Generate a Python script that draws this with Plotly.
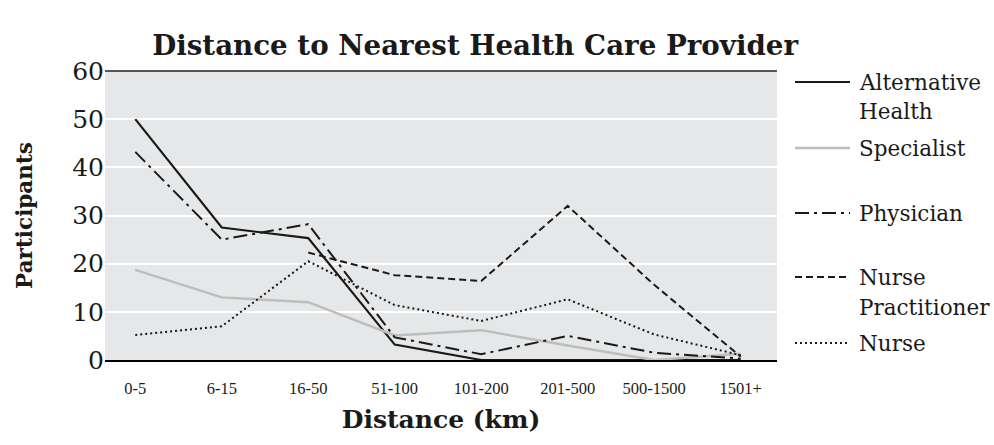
import plotly.graph_objects as go

# ---- data ----
distances = ["0-5", "6-15", "16-50", "51-100", "101-200", "201-500", "500-1500", "1501+"]
alternative_health = [50, 27.5, 25.3, 3.2, 0, 0, 0, 0]
specialist = [18.7, 13, 12, 5.1, 6.2, 3, 0, 1.3]
physician = [43.2, 25, 28.2, 4.7, 1.2, 5, 1.5, 0.3]
nurse_practitioner = [None, None, 22.3, 17.6, 16.4, 32, 15.6, 0.7]
nurse = [5.2, 7, 20.5, 11.4, 8.1, 12.6, 5.3, 1]

FONT = "DejaVu Serif"
W, H = 994, 445
L, R, T, B = 105, 217, 71, 85

# name, values, colour, width, dash, legend row (px from top)
series = [
    ("Alternative<br>Health", alternative_health, "#1a1a1a", 2.2, "solid", 82),
    ("Specialist", specialist, "#bdbdbd", 2.5, "solid", 148),
    ("Physician", physician, "#1a1a1a", 2, "14px,5px,3px,5px", 213),
    ("Nurse<br>Practitioner", nurse_practitioner, "#1a1a1a", 2, "7px,4px", 277),
    ("Nurse", nurse, "#1a1a1a", 2, "2px,3px", 343),
]

fig = go.Figure()
for name, vals, col, w, dash, _ in series:
    fig.add_trace(go.Scatter(x=distances, y=vals, mode="lines", name=name.replace("<br>", " "),
                             line=dict(color=col, width=w, dash=dash)))

# hand drawn legend on the right, like the original
pw, ph = W - L - R, H - T - B
px = lambda x: (x - L) / pw
py = lambda y: (H - B - y) / ph
for name, vals, col, w, dash, row in series:
    fig.add_shape(type="line", xref="paper", yref="paper",
                  x0=px(795), x1=px(850), y0=py(row), y1=py(row),
                  line=dict(color=col, width=w, dash=dash))
    for k, part in enumerate(name.split("<br>")):
        fig.add_annotation(xref="paper", yref="paper", x=px(857), y=py(row + 30 * k),
                           text=part, showarrow=False, xanchor="left", yanchor="middle",
                           font=dict(size=21.5, family=FONT, color="#1a1a1a"))

fig.update_layout(
    width=W, height=H,
    margin=dict(l=L, r=R, t=T, b=B),
    paper_bgcolor="white", plot_bgcolor="#e6e7e8",
    font=dict(family=FONT, color="#1a1a1a"),
    title=dict(text="<b>Distance to Nearest Health Care Provider</b>",
               font=dict(size=27.7, family=FONT), x=0.478, xanchor="center",
               y=1 - 45 / H, yanchor="middle"),
    showlegend=False,
)

fig.update_xaxes(range=[-0.35, 7.42], showgrid=False, showline=True,
                 linecolor="black", linewidth=1.5, ticks="",
                 tickfont=dict(family="Liberation Serif", size=16.5), ticklabelstandoff=12,
                 title=dict(text="<b>Distance (km)</b>", font=dict(size=25), standoff=14))
fig.update_yaxes(range=[0, 60], dtick=10, showgrid=True, gridcolor="white",
                 gridwidth=2, zeroline=False, ticks="", showline=False,
                 tickfont=dict(size=25),
                 title=dict(text="<b>Participants</b>", font=dict(size=21.5), standoff=33))

fig.add_shape(type="line", xref="paper", yref="paper", x0=0, x1=1, y0=1, y1=1,
              line=dict(color="#555555", width=2))

# page body margin would push the 994x445 figure off the window
fig.write_html("out.html", config={"displayModeBar": False},
               post_script="document.body.style.margin='0';")
